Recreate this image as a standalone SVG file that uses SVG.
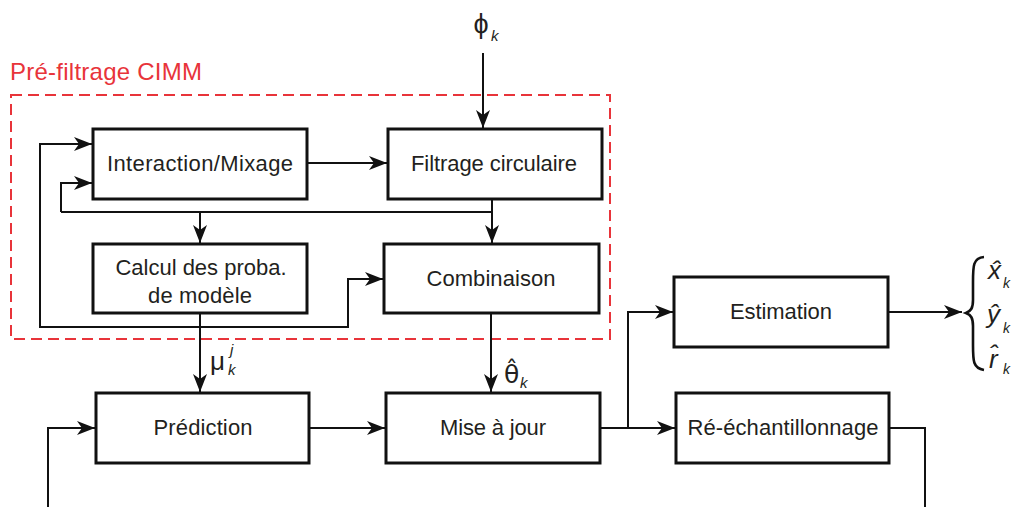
<svg xmlns="http://www.w3.org/2000/svg" width="1013" height="507" viewBox="0 0 1013 507">
<style>
.box{fill:#fff;stroke:#111;stroke-width:3}
.lbl{font-family:"Liberation Sans","DejaVu Sans",sans-serif;font-size:22px;fill:#231f20;text-anchor:middle}
.ln{fill:none;stroke:#111;stroke-width:2}
.arr{marker-end:url(#ah)}
.m{font-family:"Liberation Sans","DejaVu Sans",sans-serif;fill:#231f20}
.it{font-style:italic}
.red{font-family:"Liberation Sans","DejaVu Sans",sans-serif;font-size:24px;fill:#e8343a}
</style>
<defs>
<marker id="ah" markerUnits="userSpaceOnUse" viewBox="0 0 18 14" refX="18" refY="7" markerWidth="18" markerHeight="14" orient="auto">
<path d="M0,0 L18,7 L0,14 L5,7 z" fill="#111"/>
</marker>
</defs>
<rect x="0" y="0" width="1013" height="507" fill="#fff"/>

<g id="cimm-frame">
<rect x="11" y="95" width="599" height="244" fill="none" stroke="#e8343a" stroke-width="2" stroke-dasharray="11,6"/>
<text class="red" x="10" y="80" textLength="192">Pré-filtrage CIMM</text>
</g>

<g id="connectors">
<path class="ln arr" d="M483,53 V128"/>
<path class="ln arr" d="M307,163 H387"/>
<path class="ln arr" d="M492,199 V243"/>
<path class="ln" d="M61,212 H492"/>
<path class="ln arr" d="M200,212 V243"/>
<path class="ln arr" d="M61,212 V183 H92"/>
<path class="ln arr" d="M383,279 H348 V327 H40 V144 H92"/>
<path class="ln arr" d="M348,279 H383"/>
<path class="ln arr" d="M200,314 V392"/>
<path class="ln arr" d="M491,314 V392"/>
<path class="ln arr" d="M309,428 H385"/>
<path class="ln arr" d="M600,428 H675"/>
<path class="ln arr" d="M628,428 V312 H673"/>
<path class="ln arr" d="M888,312 H962"/>
<path class="ln" d="M889,428 H925 V507"/>
<path class="ln arr" d="M48,507 V428 H95"/>
<path d="M984,257 C973,258 973,266 973,282 L973,300 C973,308 971,311 966,313 C971,315 973,318 973,326 L973,345 C973,361 973,368 984,370" fill="none" stroke="#111" stroke-width="2.6"/>
</g>

<g id="interaction">
<rect class="box" x="93" y="129" width="214" height="70"/>
<text class="lbl" x="200" y="171" textLength="186">Interaction/Mixage</text>
</g>
<g id="filtrage">
<rect class="box" x="388" y="129" width="214" height="70"/>
<text class="lbl" x="494" y="171" textLength="166">Filtrage circulaire</text>
</g>
<g id="calcul">
<rect class="box" x="93" y="244" width="214" height="69"/>
<text class="lbl" x="201" y="275" textLength="171">Calcul des proba.</text>
<text class="lbl" x="200" y="303" textLength="104">de modèle</text>
</g>
<g id="combinaison">
<rect class="box" x="384" y="244" width="215" height="69"/>
<text class="lbl" x="491" y="286" textLength="129">Combinaison</text>
</g>
<g id="prediction">
<rect class="box" x="96" y="393" width="213" height="70"/>
<text class="lbl" x="203" y="435" textLength="99">Prédiction</text>
</g>
<g id="misejour">
<rect class="box" x="386" y="393" width="214" height="70"/>
<text class="lbl" x="493" y="435" textLength="106">Mise à jour</text>
</g>
<g id="reechant">
<rect class="box" x="676" y="393" width="213" height="70"/>
<text class="lbl" x="783" y="435" textLength="191">Ré-échantillonnage</text>
</g>
<g id="estimation">
<rect class="box" x="674" y="277" width="214" height="70"/>
<text class="lbl" x="781" y="319" textLength="102">Estimation</text>
</g>

<g id="labels">
<text class="m" x="481" y="33" font-size="27" text-anchor="middle">ϕ</text>
<text class="m it" x="491" y="41" font-size="15">k</text>

<text class="m" x="210" y="370" font-size="26">μ</text>
<text class="m it" x="230" y="355" font-size="15">j</text>
<text class="m it" x="228" y="375" font-size="15">k</text>

<text x="504" y="383" font-size="25" font-family="DejaVu Sans, sans-serif" fill="#231f20">θ̂</text>
<text class="m it" x="520" y="388" font-size="15">k</text>

<text class="m it" x="988" y="279" font-size="26">x̂</text>
<text class="m it" x="1003" y="288" font-size="14">k</text>

<text class="m it" x="987" y="323" font-size="26">ŷ</text>
<text class="m it" x="1003" y="333" font-size="14">k</text>

<text class="m it" x="989" y="368" font-size="26">r̂</text>
<text class="m it" x="1003" y="374" font-size="14">k</text>
</g>
</svg>
